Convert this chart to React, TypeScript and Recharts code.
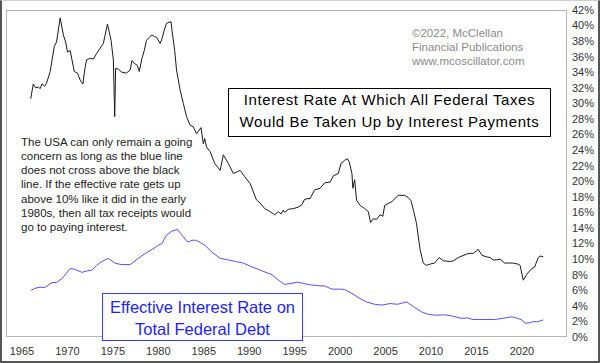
import React from "react";
import { LineChart, Line, XAxis, YAxis } from "recharts";

const blackYears = [
  1965.96, 1966.24, 1966.5, 1966.8, 1967.0, 1967.2, 1967.5, 1967.7, 1968.1, 1968.55, 1968.8, 1969.2, 1969.55, 1969.8,
  1970.0, 1970.3, 1970.5, 1970.75, 1971.1, 1971.4, 1971.7, 1971.9, 1972.1, 1972.5, 1972.85, 1973.2, 1973.6, 1973.95,
  1974.4, 1974.8, 1975.05, 1975.2, 1975.3, 1975.6, 1976.0, 1976.5, 1976.9, 1977.1, 1977.4, 1977.7, 1977.9, 1978.2,
  1978.45, 1978.7, 1979.0, 1979.3, 1979.55, 1979.8, 1980.2, 1980.4, 1980.65, 1980.9, 1981.4, 1981.5, 1981.8, 1982.0,
  1982.4, 1982.75, 1983.1, 1983.5, 1983.85, 1984.2, 1984.7, 1984.95, 1985.1, 1985.3, 1985.7, 1986.2, 1986.8, 1987.15,
  1987.7, 1988.25, 1989.0, 1989.5, 1990.1, 1990.8, 1991.2, 1991.7, 1992.3, 1992.8, 1993.2, 1993.5, 1993.75, 1993.9,
  1994.3, 1994.9, 1995.4, 1995.8, 1996.1, 1996.7, 1997.2, 1997.8, 1998.3, 1998.9, 1999.25, 1999.8, 2000.1, 2000.5,
  2000.8, 2001.0, 2001.3, 2001.4, 2001.6, 2001.8, 2002.2, 2002.7, 2003.1, 2003.35, 2003.65, 2004.0, 2004.4, 2004.7,
  2004.9, 2005.7, 2006.4, 2007.1, 2007.5, 2007.8, 2008.1, 2008.4, 2008.8, 2009.15, 2009.5, 2010.0, 2010.4, 2010.9,
  2011.35, 2012.0, 2012.4, 2013.0, 2013.4, 2013.9, 2014.3, 2014.65, 2015.2, 2015.6, 2016.1, 2016.5, 2016.85, 2017.2,
  2017.6, 2018.1, 2019.0, 2019.6, 2019.8, 2020.15, 2020.5, 2021.0, 2021.4, 2021.8, 2022.0, 2022.35,
];
const blackValues = [
  30.6, 32.5, 32.0, 32.1, 31.9, 32.5, 32.2, 32.6, 34.1, 37.3, 37.9, 41.0, 38.8, 37.9,
  36.6, 36.8, 35.6, 34.1, 33.9, 33.0, 32.5, 34.3, 35.6, 35.8, 35.7, 36.4, 37.1, 37.7,
  40.2, 38.1, 35.6, 28.3, 34.5, 34.4, 34.0, 33.9, 34.3, 35.5, 35.1, 34.9, 34.1, 35.8,
  36.8, 38.1, 38.5, 38.8, 38.6, 38.5, 37.7, 38.3, 39.4, 40.3, 40.5, 39.4, 36.8, 34.3,
  31.7, 30.0, 28.3, 27.2, 27.0, 26.1, 26.9, 24.8, 25.5, 24.4, 23.8, 22.3, 21.4, 23.4,
  22.3, 21.0, 21.4, 20.6, 19.7, 17.6, 17.2, 16.5, 16.1, 15.7, 16.1, 15.8, 16.3, 16.0,
  16.4, 16.5, 16.7, 17.0, 17.7, 17.8, 18.9, 19.1, 19.8, 19.9, 20.7, 21.0, 22.3, 22.7,
  22.9, 22.5, 21.0, 19.1, 20.2, 17.6, 16.9, 16.5, 16.1, 14.7, 15.2, 15.1, 15.7, 15.5,
  16.9, 17.4, 18.2, 18.2, 17.9, 17.5, 16.1, 14.6, 11.2, 9.5, 9.2, 9.4, 9.5, 10.2,
  9.8, 9.7, 9.75, 10.2, 10.4, 10.65, 10.75, 10.75, 11.25, 10.5, 10.3, 10.2, 9.9, 9.9,
  10.0, 9.5, 9.5, 9.35, 9.2, 7.3, 8.0, 8.7, 9.0, 10.2, 10.4, 10.3,
];

const blueYears = [
  1966.0, 1966.4, 1967.0, 1967.5, 1968.3, 1968.8, 1969.4, 1969.9, 1970.3, 1970.8, 1971.6, 1972.2, 1972.7, 1973.2,
  1973.8, 1974.5, 1975.2, 1975.9, 1976.9, 1977.8, 1978.5, 1979.4, 1980.0, 1980.4, 1980.9, 1981.5, 1982.1, 1982.6,
  1983.2, 1983.85, 1984.2, 1985.1, 1985.9, 1986.8, 1987.7, 1988.5, 1989.35, 1990.3, 1991.4, 1992.5, 1993.2, 1993.9,
  1994.7, 1995.3, 1995.9, 1996.7, 1997.5, 1998.3, 1999.1, 2000.0, 2000.5, 2001.3, 2002.1, 2002.9, 2003.8, 2004.6,
  2005.5, 2006.3, 2006.8, 2007.3, 2008.2, 2009.0, 2009.7, 2010.6, 2011.5, 2012.3, 2013.3, 2014.0, 2014.6, 2015.75,
  2017.0, 2017.9, 2018.9, 2019.5, 2020.0, 2020.3, 2020.8, 2021.3, 2021.7, 2022.35,
];
const blueValues = [
  6.0, 6.25, 6.4, 6.35, 7.0, 7.0, 7.5, 8.2, 8.8, 8.7, 8.3, 8.5, 8.6, 9.2,
  9.7, 10.1, 9.5, 9.3, 9.3, 10.1, 10.7, 11.3, 11.8, 12.0, 13.1, 13.6, 13.8, 13.1,
  12.2, 12.45, 12.4, 11.8, 10.9, 10.1, 9.9, 9.7, 9.5, 9.0, 8.5, 8.0, 7.3, 6.75,
  6.9, 7.05, 6.9, 6.7, 6.6, 6.55, 6.15, 6.15, 6.1, 5.6, 5.0, 4.5, 4.2, 4.1,
  4.3, 4.2, 4.35, 4.5, 3.8, 3.2, 2.9, 2.8, 2.85, 2.7, 2.4, 2.45, 2.25, 2.25,
  2.25, 2.4, 2.6, 2.4, 2.2, 1.8, 1.8, 2.0, 1.95, 2.2,
];

const xTicks = [1965, 1970, 1975, 1980, 1985, 1990, 1995, 2000, 2005, 2010, 2015, 2020];
const yTicks = [0, 2, 4, 6, 8, 10, 12, 14, 16, 18, 20, 22, 24, 26, 28, 30, 32, 34, 36, 38, 40, 42];

const copyrightLines = ["©2022, McClellan", "Financial Publications", "www.mcoscillator.com"];
const titleLines = ["Interest Rate At Which All Federal Taxes", "Would Be Taken Up by Interest Payments"];
const noteLines = [
  "The USA can only remain a going",
  "concern as long as the blue line",
  "does not cross above the black",
  "line. If the effective rate gets up",
  "above 10% like it did in the early",
  "1980s, then all tax receipts would",
  "go to paying interest.",
];
const blueLabelLines = ["Effective Interest Rate on", "Total Federal Debt"];

const blackData = blackYears.map((x, i) => ({ x, v: blackValues[i] }));
const blueData = blueYears.map((x, i) => ({ x, v: blueValues[i] }));

const FONT = '"Liberation Sans", Arial, sans-serif';

export default function App() {
  return (
    <div style={{ position: "absolute", left: 0, top: 0, width: 600, height: 363, background: "#fff", fontFamily: FONT, overflow: "hidden" }}>
      <div style={{ position: "absolute", left: 6, top: 10, width: 561, height: 327, border: "1px solid #b4b4b4", boxSizing: "border-box" }} />
      <LineChart width={600} height={363} margin={{ top: 10, right: 0, bottom: 0, left: 6 }}>
        <XAxis
          dataKey="x"
          type="number"
          domain={[1963.24, 2024.96]}
          ticks={xTicks}
          interval={0}
          allowDataOverflow
          axisLine={false}
          tickLine={false}
          tickSize={0}
          tickMargin={10}
          height={26}
          tick={{ fontSize: 11, fill: "#333", fontFamily: FONT }}
        />
        <YAxis
          orientation="right"
          type="number"
          domain={[0, 42]}
          ticks={yTicks}
          interval={0}
          axisLine={false}
          tickLine={false}
          tickSize={0}
          tickMargin={5}
          width={33}
          tickFormatter={(v: number) => `${v}%`}
          tick={{ fontSize: 11, fill: "#333", fontFamily: FONT, textAnchor: "start" }}
        />
        <Line data={blueData} dataKey="v" type="linear" stroke="#5252ff" strokeWidth={1} dot={false} isAnimationActive={false} />
        <Line data={blackData} dataKey="v" type="linear" stroke="#1a1a1a" strokeWidth={1} dot={false} isAnimationActive={false} />
      </LineChart>

      <div style={{ position: "absolute", left: 412, top: 26, fontSize: 11.5, lineHeight: "14px", color: "#8a8a8a", whiteSpace: "nowrap" }}>
        {copyrightLines.map((l) => <div key={l}>{l}</div>)}
      </div>

      <div style={{ position: "absolute", left: 228, top: 88, width: 323, height: 49, boxSizing: "border-box", border: "1px solid #000", background: "#fff", textAlign: "center", fontSize: 15, letterSpacing: "0.6px", lineHeight: "22px", color: "#000", whiteSpace: "nowrap" }}>
        {titleLines.map((l) => <div key={l}>{l}</div>)}
      </div>

      <div style={{ position: "absolute", left: 21, top: 134.5, fontSize: 11.5, lineHeight: "14.3px", color: "#222", whiteSpace: "nowrap" }}>
        {noteLines.map((l) => <div key={l}>{l}</div>)}
      </div>

      <div style={{ position: "absolute", left: 102, top: 293, width: 201, height: 48, boxSizing: "border-box", border: "1px solid #3a3aff", background: "#fff", textAlign: "center", fontSize: 16.5, lineHeight: "22px", paddingTop: 2, color: "#1e1eff", whiteSpace: "nowrap" }}>
        {blueLabelLines.map((l) => <div key={l}>{l}</div>)}
      </div>

      <div style={{ position: "absolute", left: 0, top: 0, width: 600, height: 363, boxSizing: "border-box", borderTop: "1px solid #d0d0d0", borderLeft: "2px solid #555", borderRight: "2px solid #555", borderBottom: "2px solid #555", pointerEvents: "none" }} />
    </div>
  );
}
